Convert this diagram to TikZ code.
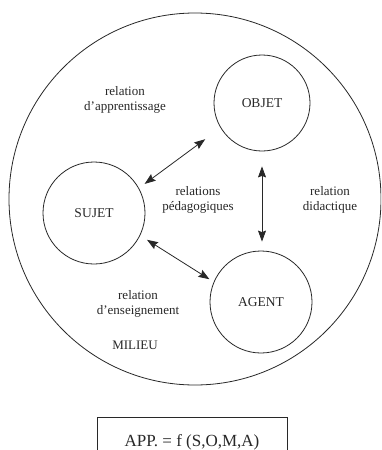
\documentclass[tikz,border=0pt]{standalone}
\usepackage{fontspec}
\setmainfont{Liberation Serif}
\usetikzlibrary{arrows.meta}
\definecolor{ink}{RGB}{40,40,40}
\begin{document}
\begin{tikzpicture}[x=1pt,y=-1pt,
  every node/.style={text=ink},
  ring/.style={draw=ink,line width=0.8pt,circle,inner sep=0pt},
  lbl/.style={align=center,font=\fontsize{13}{15}\selectfont},
  ent/.style={ring,minimum size=100pt,font=\fontsize{13.5}{15}\selectfont},
  link/.style={draw=ink,line width=0.8pt,{Stealth[length=11pt,width=8pt,inset=1.5pt]}-{Stealth[length=11pt,width=8pt,inset=1.5pt]}}]
\useasboundingbox (0,0) rectangle (381,450);
\clip (0,0) rectangle (381,450);
\fill[white] (0,0) rectangle (381,450);
\node[ring,minimum size=372pt] (milieu) at (195,199) {};
\node[ent,minimum size=96pt] (objet) at (262,103) {OBJET};
\node[ent,minimum size=102pt] (sujet) at (94,213) {SUJET};
\node[ent,minimum size=102pt] (agent) at (261,302) {AGENT};
\draw[link,shorten <=7pt,shorten >=19pt] (sujet.29) -- (objet.211);
\draw[link,shorten <=8pt,shorten >=5pt] (sujet.334) -- (agent.157);
\draw[link,shorten <=15pt,shorten >=9pt] (objet.south) -- (objet.south |- agent.north);
\node[lbl] (lapp) at (125,100) {relation\\d'apprentissage};
\node[lbl] (lped) at (198,200) {relations\\pédagogiques};
\node[lbl] (ldid) at (330,200) {relation\\didactique};
\node[lbl] (lens) at (138,304) {relation\\d'enseignement};
\node[lbl] (lmil) at (135,345) {MILIEU};
\node[draw=ink,line width=0.8pt,minimum width=190pt,minimum height=50pt,font=\fontsize{17}{19}\selectfont,anchor=north] (formula) at (192,417) {APP. = f (S,O,M,A)};
\end{tikzpicture}
\end{document}
